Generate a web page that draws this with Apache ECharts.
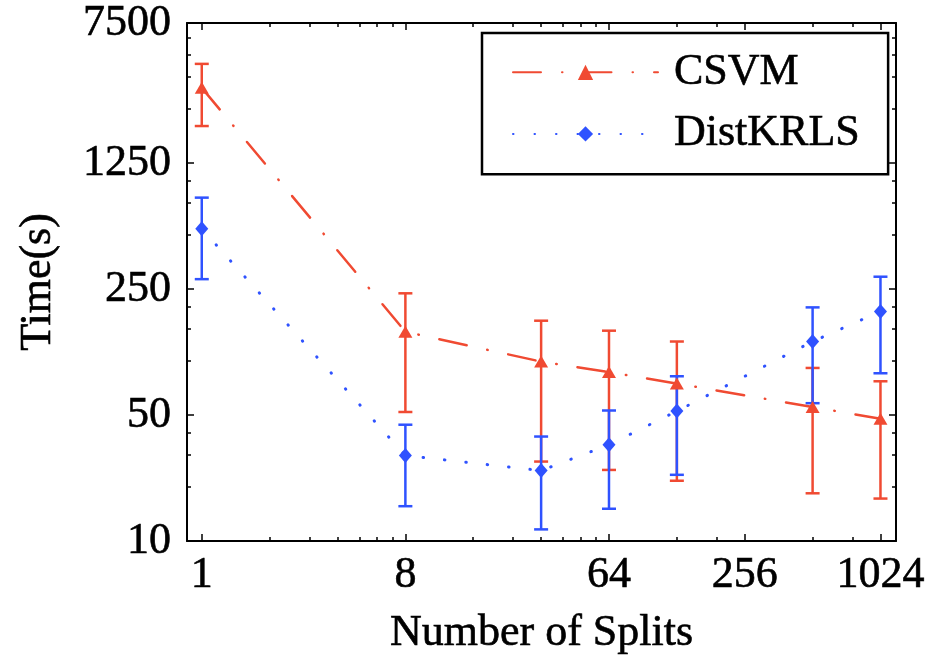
<!DOCTYPE html>
<html><head><meta charset="utf-8">
<script src="https://cdn.jsdelivr.net/npm/echarts@6/dist/echarts.min.js"></script>
<style>html,body{margin:0;padding:0;background:#fff;} #c{width:933px;height:657px;}</style>
</head><body><div id="c"></div>
<script>
const splits = [1, 8, 32, 64, 128, 512, 1024];
const csvmMean = [3275, 145, 99, 86.6, 74.8, 55.4, 47.7];
const csvmLow  = [2010, 52, 27.6, 24.8, 21.6, 18.4, 17.2];
const csvmHigh = [4448, 237, 167, 147, 128, 91.3, 77];
const krlsMean = [540, 29.8, 24.6, 34.2, 52.6, 128, 188];
const krlsLow  = [284, 15.6, 11.6, 15.1, 23.3, 58.2, 85.3];
const krlsHigh = [805, 44.2, 38, 53, 82.1, 198, 293];
const xMajorTicks = [1, 8, 64, 256, 1024];
const xMinorTicks = [2, 3, 4, 5, 6, 7, 16, 24, 32, 40, 48, 56, 128, 192, 512, 768];
const yMajorTicks = [10, 50, 250, 1250, 7500];
const yMinorTicks = [20, 30, 40, 100, 150, 200, 500, 750, 1000, 2500, 3750, 5000, 6250];

const RED = '#f04a32';
const BLUE = '#2f52ff';
const FONT = 'Liberation Serif';
const lab = {fontFamily: FONT, fontSize: 44, color: '#000', textBorderColor: '#000', textBorderWidth: 0.6};

function pairs(xs, ys) { return xs.map((x, i) => [x, ys[i]]); }
function triples(xs, lo, hi) { return xs.map((x, i) => [x, lo[i], hi[i]]); }

function errRender(color) {
  return function (params, api) {
    const x = api.value(0), lo = api.value(1), hi = api.value(2);
    const pLo = api.coord([x, lo]), pHi = api.coord([x, hi]);
    const hw = 7;
    const style = {stroke: color, lineWidth: 2.5, fill: null};
    return {type: 'group', children: [
      {type: 'line', shape: {x1: pLo[0], y1: pLo[1], x2: pHi[0], y2: pHi[1]}, style: style},
      {type: 'line', shape: {x1: pLo[0] - hw, y1: pLo[1], x2: pLo[0] + hw, y2: pLo[1]}, style: style},
      {type: 'line', shape: {x1: pHi[0] - hw, y1: pHi[1], x2: pHi[0] + hw, y2: pHi[1]}, style: style}
    ]};
  };
}

function axis(kind, pos, ticks, len, opts) {
  const base = {
    type: 'log', position: pos,
    splitLine: {show: false}, minorTick: {show: false}, minorSplitLine: {show: false},
    axisLine: {show: !!opts.line, lineStyle: {color: '#000', width: 2}},
    axisTick: {show: true, inside: true, length: len, customValues: ticks, lineStyle: {color: '#000', width: 1.5}},
    axisLabel: {show: false}
  };
  if (kind === 'x') { base.logBase = 2; base.min = 0.86; base.max = 1200; }
  else { base.logBase = 10; base.min = 10; base.max = 7500; }
  return Object.assign(base, opts.extra || {});
}

const option = {
  animation: false,
  backgroundColor: '#fff',
  grid: {left: 187, right: 37, top: 23, bottom: 116, containLabel: false, outerBoundsMode: 'none'},
  xAxis: [
    axis('x', 'bottom', xMajorTicks, 7, {line: true, extra: {
      axisLabel: Object.assign({show: true, customValues: xMajorTicks, margin: 12,
        formatter: v => String(Math.round(v))}, lab),
      name: 'Number of Splits', nameLocation: 'middle', nameGap: 70, nameTextStyle: lab
    }}),
    axis('x', 'bottom', xMinorTicks, 4, {line: false}),
    axis('x', 'top', xMajorTicks, 7, {line: true}),
    axis('x', 'top', xMinorTicks, 4, {line: false})
  ],
  yAxis: [
    axis('y', 'left', yMajorTicks, 7, {line: true, extra: {
      axisLabel: Object.assign({show: true, customValues: yMajorTicks, margin: 16,
        formatter: v => String(Math.round(v))}, lab),
      name: 'Time(s)', nameLocation: 'middle', nameGap: 127, nameRotate: 90, nameTextStyle: lab
    }}),
    axis('y', 'left', yMinorTicks, 4, {line: false}),
    axis('y', 'right', yMajorTicks, 7, {line: true}),
    axis('y', 'right', yMinorTicks, 4, {line: false})
  ],
  legend: {
    show: true, data: ['CSVM', 'DistKRLS'], orient: 'vertical',
    left: 482, top: 33, padding: [17, 28, 18, 30], itemGap: 17,
    itemWidth: 145, itemHeight: 19,
    borderColor: '#000', borderWidth: 2.5, backgroundColor: '#fff',
    textStyle: Object.assign({lineHeight: 44, padding: [0, 0, 0, 11]}, lab),
    selectedMode: false
  },
  series: [
    {type: 'custom', name: 'CSVM err', renderItem: errRender(RED), data: triples(splits, csvmLow, csvmHigh),
      encode: {x: 0, y: [1, 2]}, z: 1, silent: true},
    {type: 'custom', name: 'DistKRLS err', renderItem: errRender(BLUE), data: triples(splits, krlsLow, krlsHigh),
      encode: {x: 0, y: [1, 2]}, z: 1, silent: true},
    {type: 'line', name: 'CSVM', data: pairs(splits, csvmMean), z: 3,
      symbol: 'triangle', symbolSize: [14, 12], showSymbol: true,
      itemStyle: {color: RED, borderWidth: 0},
      lineStyle: {color: RED, width: 2.5, type: [28, 21, 0.5, 21], cap: 'round'}},
    {type: 'line', name: 'DistKRLS', data: pairs(splits, krlsMean), z: 3,
      symbol: 'diamond', symbolSize: [13, 15], showSymbol: true,
      itemStyle: {color: BLUE, borderWidth: 0},
      lineStyle: {color: BLUE, width: 3, type: [0.5, 21], cap: 'round'}}
  ]
};
const chart = echarts.init(document.getElementById('c'), null, {renderer: 'canvas'});
chart.setOption(option);
</script>
</body></html>
